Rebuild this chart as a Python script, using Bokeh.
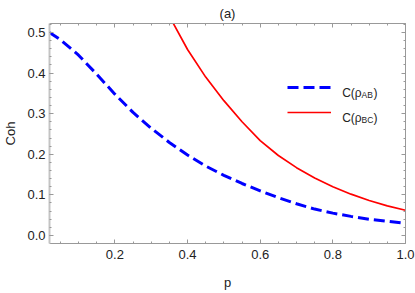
import numpy as np
from bokeh.plotting import figure
from bokeh.models import (LinearAxis, SingleIntervalTicker, FixedTicker, NumeralTickFormatter,
                          Range1d, Label, Legend, LegendItem)
from bokeh.embed import file_html
from bokeh.resources import INLINE

# ---- data ----
p_ab = [0.02, 0.05, 0.10, 0.15, 0.20, 0.25, 0.30, 0.35, 0.40, 0.45, 0.50,
        0.55, 0.60, 0.65, 0.70, 0.75, 0.80, 0.85, 0.90, 0.95, 1.00]
c_ab = [0.500, 0.482, 0.444, 0.397, 0.348, 0.303, 0.264, 0.229, 0.198, 0.171, 0.148,
        0.128, 0.110, 0.093, 0.078, 0.065, 0.055, 0.047, 0.040, 0.035, 0.030]

p_bc = [0.35, 0.40, 0.45, 0.50, 0.55, 0.60, 0.65, 0.70, 0.75, 0.80, 0.85, 0.90, 0.95, 1.00]
c_bc = [0.540, 0.458, 0.390, 0.332, 0.280, 0.2335, 0.197, 0.167, 0.1415, 0.120, 0.1017, 0.0862, 0.0730, 0.062]

x_range = (0.02, 1.0)
y_range = (-0.0198, 0.522)
x_tick_step = 0.2
y_tick_step = 0.1
title_text = "(a)"
x_label = "p"
y_label = "Coh"
legend_main = ["C(ρ", "C(ρ"]
legend_sub = ["AB", "BC"]

FONT = "Liberation Sans"
AXIS_GRAY = "#999999"
TEXT_COL = "#222222"

p = figure(width=415, height=293, output_backend="svg", toolbar_location=None,
           x_range=Range1d(*x_range), y_range=Range1d(*y_range),
           x_axis_location=None, y_axis_location=None,
           min_border_left=49, min_border_right=10, min_border_top=23, min_border_bottom=50)
p.outline_line_color = None
p.xgrid.visible = False
p.ygrid.visible = False
p.background_fill_color = "white"
p.border_fill_color = "white"

p.title.text = title_text
p.title.align = "center"
p.title.text_font = FONT
p.title.text_font_style = "normal"
p.title.text_font_size = "13px"
p.title.text_color = TEXT_COL
p.title.standoff = 6


def style_axis(ax):
    ax.major_tick_in = 4
    ax.major_tick_out = 0
    ax.minor_tick_in = 2
    ax.minor_tick_out = 0
    ax.major_tick_line_color = AXIS_GRAY
    ax.minor_tick_line_color = AXIS_GRAY
    ax.axis_line_color = AXIS_GRAY
    ax.major_label_text_font = FONT
    ax.major_label_text_color = TEXT_COL
    ax.major_label_text_font_size = "13px"


xt = SingleIntervalTicker(interval=x_tick_step, num_minor_ticks=4)
yt = SingleIntervalTicker(interval=y_tick_step, num_minor_ticks=5)

xb = LinearAxis(ticker=xt, formatter=NumeralTickFormatter(format="0.0"))
style_axis(xb)
xb.major_label_standoff = 6
xb.axis_label = x_label
xb.axis_label_text_font = FONT
xb.axis_label_text_font_style = "normal"
xb.axis_label_text_font_size = "13px"
xb.axis_label_text_color = TEXT_COL
xb.axis_label_standoff = 13
p.add_layout(xb, "below")

yl = LinearAxis(ticker=yt, formatter=NumeralTickFormatter(format="0.0"))
style_axis(yl)
yl.major_label_standoff = 4
yl.axis_line_color = "#c4c4c4"
yl.axis_line_width = 2
yl.axis_label = y_label
yl.axis_label_text_font = FONT
yl.axis_label_text_font_style = "normal"
yl.axis_label_text_font_size = "13px"
yl.axis_label_text_color = TEXT_COL
yl.axis_label_standoff = 6
p.add_layout(yl, "left")

# frame ticks on top and right (no labels)
x_major_pos = list(np.arange(0.2, 1.0001, x_tick_step))
x_minor_pos = list(np.arange(0.05, 1.0001, x_tick_step / 4))
y_major_pos = list(np.arange(0.0, 0.5001, y_tick_step))
y_minor_pos = list(np.arange(0.0, 0.5201, y_tick_step / 5))


def frame_axis(positions, tick_len, draw_line):
    ax = LinearAxis(ticker=FixedTicker(ticks=[], minor_ticks=positions))
    ax.minor_tick_in = tick_len
    ax.minor_tick_out = 0
    ax.major_tick_in = 0
    ax.major_tick_out = 0
    ax.minor_tick_line_color = AXIS_GRAY
    ax.major_label_standoff = 0
    ax.axis_line_color = AXIS_GRAY if draw_line else None
    return ax


p.add_layout(frame_axis(x_minor_pos, 2, True), "above")
p.add_layout(frame_axis(x_major_pos, 4, False), "above")
p.add_layout(frame_axis(y_minor_pos, 2, True), "right")
p.add_layout(frame_axis(y_major_pos, 4, False), "right")

rb = p.line(p_ab, c_ab, line_color="#0000ff", line_width=3, line_dash="11 5")
rr = p.line(p_bc, c_bc, line_color="#ff0000", line_width=1.7)

legend = Legend(items=[LegendItem(label=" ", renderers=[rb]),
                       LegendItem(label="  ", renderers=[rr])],
                location=(238, 121), orientation="vertical",
                padding=0, margin=0, spacing=5,
                glyph_width=44, glyph_height=20, label_height=20,
                label_width=0, label_standoff=0,
                label_text_font_size="12px",
                border_line_alpha=0, background_fill_alpha=0)
p.add_layout(legend, "center")

row_dy = 25
for i in range(2):
    base = 150.3 - i * row_dy
    p.add_layout(Label(x=292.7, y=base, x_units="screen", y_units="screen",
                       text=legend_main[i], text_font=FONT, text_font_size="12px",
                       text_color=TEXT_COL, text_baseline="alphabetic", text_align="left"))
    p.add_layout(Label(x=312.0, y=base - 1.3, x_units="screen", y_units="screen",
                       text=legend_sub[i], text_font=FONT, text_font_size="8.5px",
                       text_color=TEXT_COL, text_baseline="alphabetic", text_align="left"))
    p.add_layout(Label(x=324.0, y=base, x_units="screen", y_units="screen",
                       text=")", text_font=FONT, text_font_size="12px",
                       text_color=TEXT_COL, text_baseline="alphabetic", text_align="left"))

open("out.html", "w").write(file_html(p, INLINE))
